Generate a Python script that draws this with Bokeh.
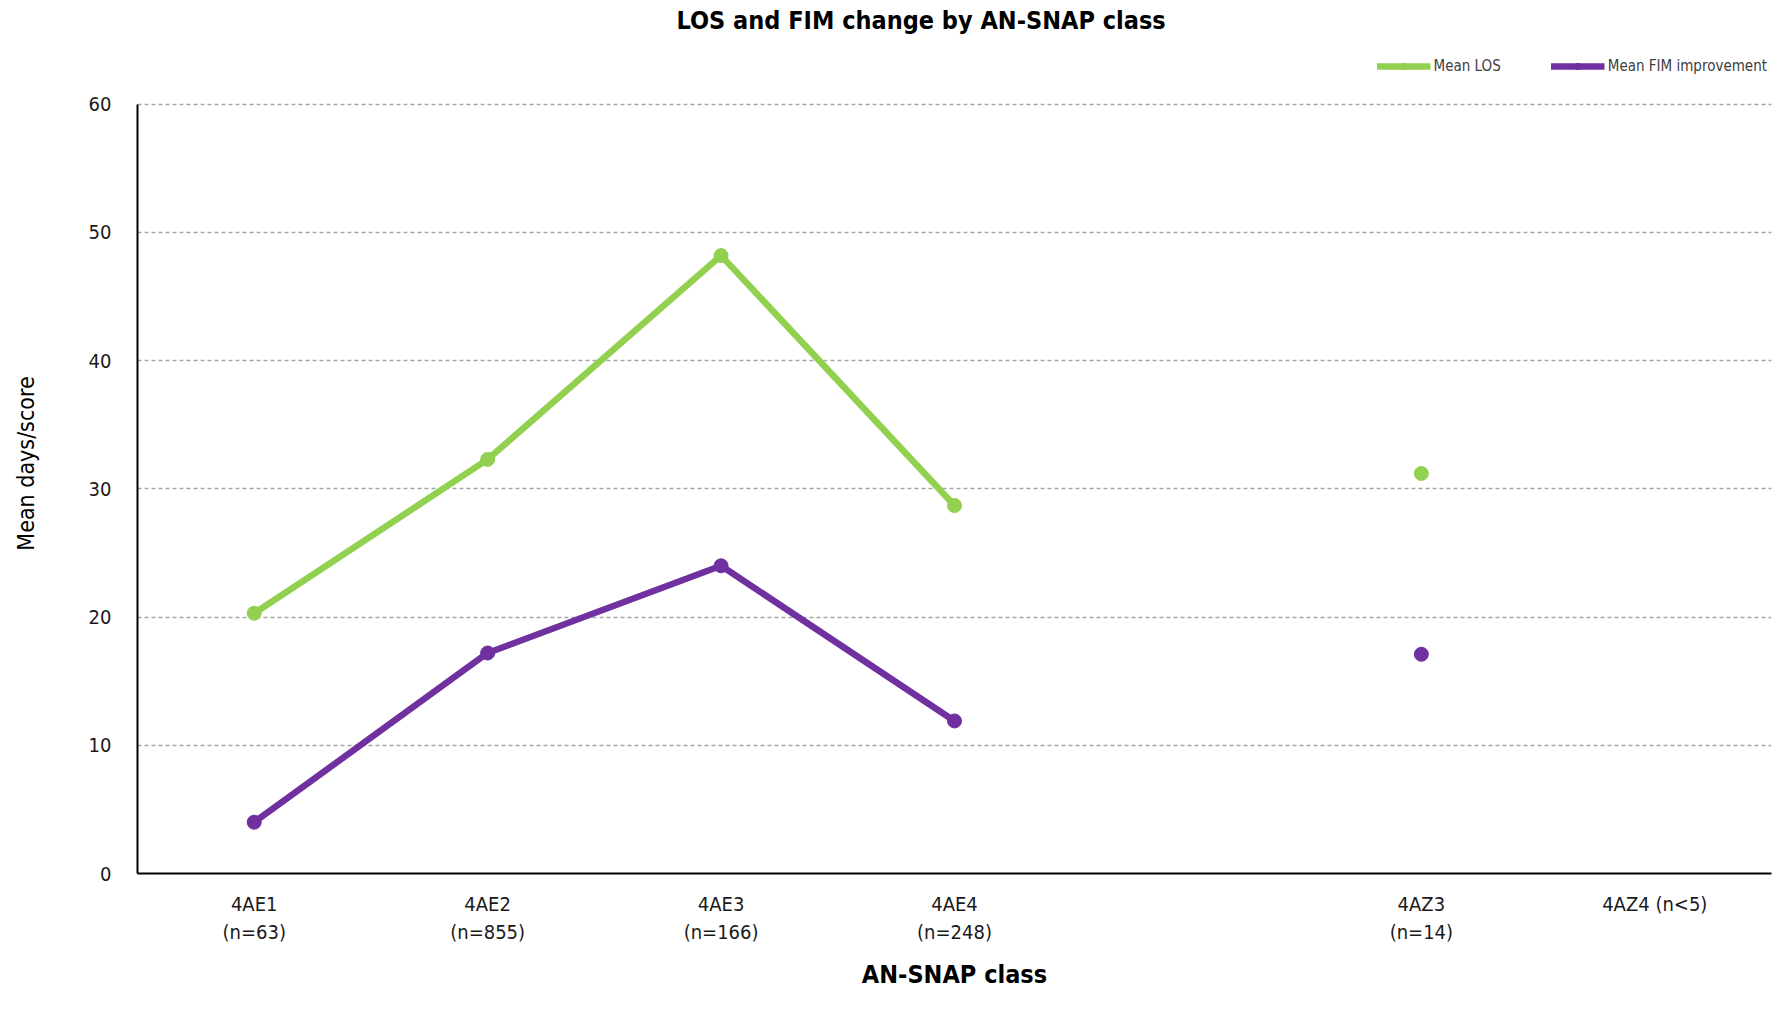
from bokeh.plotting import figure
from bokeh.models import FactorRange, Legend, LegendItem, FixedTicker, ColumnDataSource, Range1d, Title
from bokeh.embed import file_html
from bokeh.resources import INLINE
import numpy as np

categories = ["4AE1\n(n=63)", "4AE2\n(n=855)", "4AE3\n(n=166)", "4AE4\n(n=248)", " ", "4AZ3\n(n=14)", "4AZ4 (n<5)"]
mean_los = [20.3, 32.3, 48.2, 28.7, np.nan, 31.2, np.nan]
mean_fim = [4.0, 17.2, 24.0, 11.9, np.nan, 17.1, np.nan]
y_ticks = [0, 10, 20, 30, 40, 50, 60]

FONT = "DejaVu Sans Condensed"
GREEN = "#92D050"
PURPLE = "#7030A0"

src = ColumnDataSource(dict(x=categories, los=mean_los, fim=mean_fim))

p = figure(x_range=FactorRange(*categories), y_range=Range1d(0, 63.96),
           width=1772, height=993, output_backend="svg", toolbar_location=None,
           min_border_left=137, min_border_right=1, min_border_top=53, min_border_bottom=120)

p.title.text = "LOS and FIM change by AN-SNAP class"
p.title.align = "left"
p.title.offset = 539
p.title.vertical_align = "top"
p.title.text_font = FONT
p.title.text_font_size = "25px"
p.title.text_font_style = "bold"
p.title.text_color = "#000000"
p.title.standoff = 10

spacer = Title(text=" ", text_font_size="9px", standoff=0)
p.add_layout(spacer, "above")

l1 = p.line("x", "los", source=src, line_color=GREEN, line_width=6.5)
c1 = p.scatter("x", "los", source=src, size=14, fill_color=GREEN, line_color=GREEN)
l2 = p.line("x", "fim", source=src, line_color=PURPLE, line_width=6.5)
c2 = p.scatter("x", "fim", source=src, size=14, fill_color=PURPLE, line_color=PURPLE)

legend = Legend(items=[LegendItem(label="Mean LOS", renderers=[l1, c1]),
                       LegendItem(label="Mean FIM improvement", renderers=[l2, c2])],
                orientation="horizontal", location="top_right",
                label_text_font=FONT, label_text_font_size="15px", label_text_color="#404040",
                glyph_width=54, glyph_height=16, spacing=50, label_standoff=3,
                border_line_color=None, background_fill_alpha=0, padding=2, margin=4)
p.add_layout(legend)

p.yaxis.ticker = FixedTicker(ticks=y_ticks)
p.yaxis.bounds = (0, 60)
p.ygrid.ticker = FixedTicker(ticks=y_ticks)
p.ygrid.grid_line_color = "#A6A6A6"
p.ygrid.grid_line_dash = "4 3"
p.ygrid.grid_line_width = 1.5
p.xgrid.grid_line_color = None
p.outline_line_color = None

for ax in (p.xaxis, p.yaxis):
    ax.axis_line_color = "#000000"
    ax.axis_line_width = 2
    ax.major_tick_line_color = None
    ax.minor_tick_line_color = None
    ax.major_label_text_font = FONT
    ax.major_label_text_font_size = "20px"
    ax.major_label_text_color = "#1a1a1a"
    ax.axis_label_text_font = FONT
    ax.axis_label_text_color = "#000000"

p.yaxis.major_label_standoff = 20
p.xaxis.major_label_standoff = 12
p.yaxis.axis_label = "Mean days/score"
p.yaxis.axis_label_text_font_size = "23px"
p.yaxis.axis_label_text_font_style = "normal"
p.yaxis.axis_label_standoff = 47
p.xaxis.axis_label = "AN-SNAP class"
p.xaxis.axis_label_text_font_size = "25px"
p.xaxis.axis_label_text_font_style = "bold"
p.xaxis.axis_label_standoff = 13

open("out.html", "w").write(file_html(p, INLINE))
